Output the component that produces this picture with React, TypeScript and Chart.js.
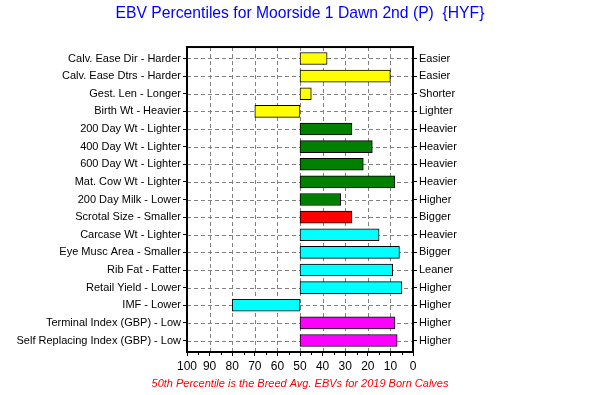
import React, { useEffect, useRef } from "react";
import { Chart, registerables } from "chart.js";

Chart.register(...registerables);

const leftLabels = [
  "Calv. Ease Dir - Harder",
  "Calv. Ease Dtrs - Harder",
  "Gest. Len - Longer",
  "Birth Wt - Heavier",
  "200 Day Wt - Lighter",
  "400 Day Wt - Lighter",
  "600 Day Wt - Lighter",
  "Mat. Cow Wt - Lighter",
  "200 Day Milk - Lower",
  "Scrotal Size - Smaller",
  "Carcase Wt - Lighter",
  "Eye Musc Area - Smaller",
  "Rib Fat - Fatter",
  "Retail Yield - Lower",
  "IMF - Lower",
  "Terminal Index (GBP) - Low",
  "Self Replacing Index (GBP) - Low",
];

const rightLabels = [
  "Easier",
  "Easier",
  "Shorter",
  "Lighter",
  "Heavier",
  "Heavier",
  "Heavier",
  "Heavier",
  "Higher",
  "Bigger",
  "Heavier",
  "Bigger",
  "Leaner",
  "Higher",
  "Higher",
  "Higher",
  "Higher",
];

const percentiles = [38, 10, 45, 70, 27, 18, 22, 8, 32, 27, 15, 6, 9, 5, 80, 8, 7];

const barColors = [
  "#FFFF00", "#FFFF00", "#FFFF00", "#FFFF00",
  "#008000", "#008000", "#008000", "#008000", "#008000",
  "#FF0000",
  "#00FFFF", "#00FFFF", "#00FFFF", "#00FFFF", "#00FFFF",
  "#FF00FF", "#FF00FF",
];

const xTicks = [100, 90, 80, 70, 60, 50, 40, 30, 20, 10, 0];
const breedAverage = 50;
const titleText = "EBV Percentiles for Moorside 1 Dawn 2nd (P)  {HYF}";
const footerText = "50th Percentile is the Breed Avg. EBVs for 2019 Born Calves";

const FONT = "'Liberation Sans', Arial, sans-serif";

const frame = {
  id: "frame",
  beforeDatasetsDraw(chart: any) {
    const { ctx, chartArea } = chart;
    const xs = chart.scales.x;
    const ys = chart.scales.y;
    ctx.save();
    ctx.strokeStyle = "#808080";
    ctx.lineWidth = 1;
    ctx.setLineDash([4, 3]);
    ctx.beginPath();
    xTicks.forEach((v) => {
      const px = Math.round(xs.getPixelForValue(v)) + 0.5;
      ctx.moveTo(px, chartArea.top);
      ctx.lineTo(px, chartArea.bottom);
    });
    leftLabels.forEach((_, i) => {
      const py = Math.round(ys.getPixelForValue(i)) + 0.5;
      ctx.moveTo(chartArea.left, py);
      ctx.lineTo(chartArea.right, py);
    });
    ctx.stroke();
    ctx.restore();
  },
  afterDraw(chart: any) {
    const { ctx, chartArea } = chart;
    ctx.save();
    ctx.strokeStyle = "#000";
    ctx.lineWidth = 2;
    ctx.strokeRect(chartArea.left, chartArea.top, chartArea.right - chartArea.left, chartArea.bottom - chartArea.top);
    const xs = chart.scales.x;
    ctx.lineWidth = 1;
    ctx.beginPath();
    for (let v = 5; v < 100; v += 10) {
      const px = Math.round(xs.getPixelForValue(v)) + 0.5;
      ctx.moveTo(px, chartArea.bottom);
      ctx.lineTo(px, chartArea.bottom + 3);
    }
    ctx.stroke();
    ctx.restore();
  },
};

const indexTicks = (s: any) => {
  s.ticks = leftLabels.map((_, i) => ({ value: i }));
};

export default function App() {
  const ref = useRef<HTMLCanvasElement>(null);
  useEffect(() => {
    document.body.style.margin = "0";
    const chart = new Chart(ref.current!, {
      type: "bar",
      data: {
        datasets: [
          {
            data: percentiles.map((v, i) => ({ x: [breedAverage, v], y: i })) as any,
            backgroundColor: barColors,
            borderColor: "#000",
            borderWidth: 1,
            borderSkipped: false,
            barThickness: 12,
            yAxisID: "y",
          },
        ],
      },
      options: {
        indexAxis: "y",
        animation: false,
        responsive: false,
        maintainAspectRatio: false,
        layout: { padding: 0 },
        plugins: {
          legend: { display: false },
          tooltip: { enabled: false },
          title: {
            display: true,
            text: titleText,
            color: "#0000FF",
            font: { family: FONT, size: 15.7, weight: "normal" },
            padding: { top: 4.5, bottom: 23.7 },
          },
          subtitle: {
            display: true,
            position: "bottom",
            text: footerText,
            color: "#FF0000",
            font: { family: FONT, size: 11, style: "italic", weight: "normal" },
            padding: { top: 0, bottom: 4.4 },
          },
        },
        scales: {
          x: {
            type: "linear",
            min: 0,
            max: 100,
            reverse: true,
            offset: false,
            afterBuildTicks: (s: any) => {
              s.ticks = xTicks.map((v) => ({ value: v }));
            },
            ticks: {
              color: "#000",
              font: { family: FONT, size: 12 },
              padding: 3,
              maxRotation: 0,
              minRotation: 0,
              autoSkip: false,
            },
            grid: {
              drawOnChartArea: false,
              tickColor: "#000",
              tickLength: 4,
            },
            border: { display: false },
            afterFit: (s: any) => {
              s.height = 25.4;
            },
          },
          y: {
            type: "linear",
            position: "left",
            min: -0.65,
            max: 16.65,
            reverse: true,
            offset: false,
            afterBuildTicks: indexTicks,
            ticks: {
              color: "#000",
              font: { family: FONT, size: 11 },
              padding: 2,
              autoSkip: false,
              callback: (v: any) => leftLabels[v] ?? "",
            },
            grid: {
              offset: false,
              drawOnChartArea: false,
              tickColor: "#000",
              tickLength: 4,
            },
            border: { display: false },
            afterFit: (s: any) => {
              s.width = 187;
            },
          },
          y2: {
            type: "linear",
            position: "right",
            min: -0.65,
            max: 16.65,
            reverse: true,
            offset: false,
            afterBuildTicks: indexTicks,
            ticks: {
              color: "#000",
              font: { family: FONT, size: 11 },
              padding: 2,
              autoSkip: false,
              callback: (v: any) => rightLabels[v] ?? "",
            },
            grid: {
              offset: false,
              drawOnChartArea: false,
              tickColor: "#000",
              tickLength: 4,
            },
            border: { display: false },
            afterFit: (s: any) => {
              s.width = 187;
            },
          },
        },
      },
      plugins: [frame],
    });
    return () => chart.destroy();
  }, []);
  return (
    <div style={{ width: 600, height: 395, background: "#fff" }}>
      <canvas ref={ref} width={600} height={395} style={{ display: "block" }} />
    </div>
  );
}
